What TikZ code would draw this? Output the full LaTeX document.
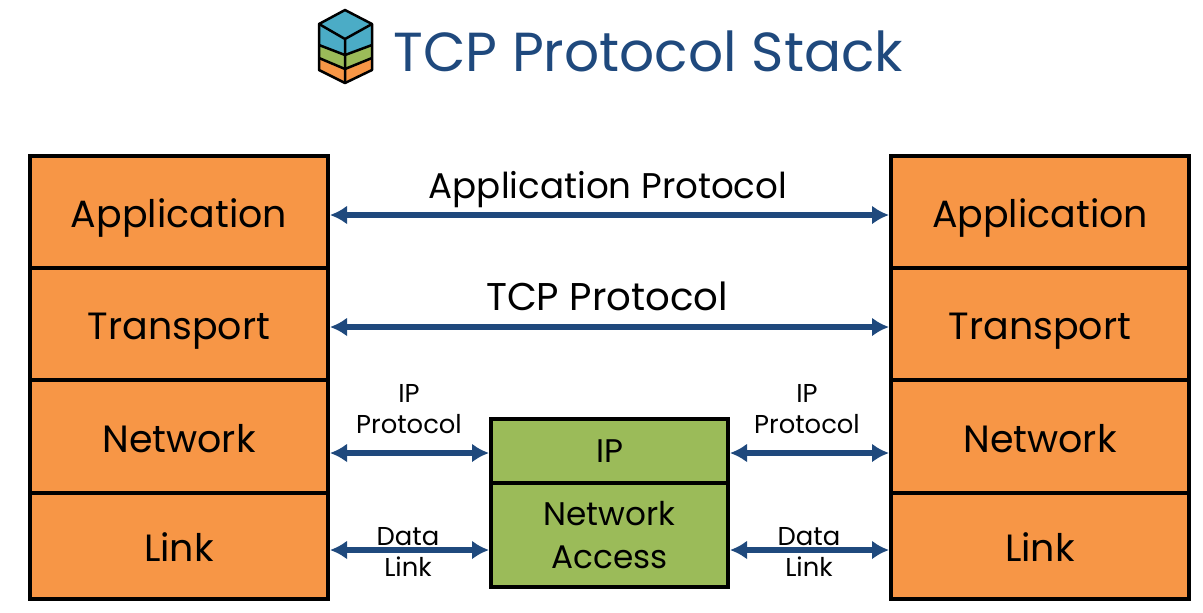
\documentclass[tikz,border=0pt]{standalone}
\usepackage{fontspec}
\setmainfont{Poppins}
\usepackage{tikz}
\usetikzlibrary{arrows.meta}

\definecolor{layerorange}{HTML}{F79646}
\definecolor{layergreen}{HTML}{9BBB59}
\definecolor{layerblue}{HTML}{4BACC6}
\definecolor{arrowblue}{HTML}{1F497D}

\tikzset{
    boxbase/.style={draw=black, line width=0.8mm, inner sep=0pt, align=center},
    layerbox/.style={boxbase, fill=layerorange, minimum width=5.96cm, text height=6.2mm, text depth=0pt, font=\fontsize{21.6}{24}\selectfont},
    routerbox/.style={boxbase, fill=layergreen, minimum width=4.74cm, font=\fontsize{18.6}{24}\selectfont},
    peerarrow/.style={{Latex[length=3.4mm, width=3.8mm]}-{Latex[length=3.4mm, width=3.8mm]}, draw=arrowblue, line width=1.2mm},
    biglabel/.style={font=\fontsize{20.3}{24}\selectfont},
    smalllabel/.style={font=\fontsize{14.7}{17.5}\selectfont, align=center},
    cubeline/.style={draw=black, line width=0.5mm, line join=round}
}

\begin{document}
\begin{tikzpicture}[x=0.2mm, y=-0.2mm]
    \useasboundingbox (0, 0) rectangle (1203, 612);

    % Cube icon
    \fill[layerorange] (319, 58) -- (345, 69) -- (372, 58) -- (372, 70) -- (345, 83) -- (319, 70) -- cycle;
    \fill[layergreen] (319, 45) -- (345, 55) -- (372, 45) -- (372, 58) -- (345, 69) -- (319, 58) -- cycle;
    \fill[layerblue] (345, 10) -- (372, 24) -- (372, 45) -- (345, 55) -- (319, 45) -- (319, 24) -- cycle;
    \draw[cubeline] (345, 10) -- (372, 24) -- (372, 70) -- (345, 83) -- (319, 70) -- (319, 24) -- cycle;
    \draw[cubeline] (319, 24) -- (345, 39) -- (372, 24) (345, 39) -- (345, 83);
    \draw[cubeline] (319, 45) -- (345, 55) -- (372, 45) (319, 58) -- (345, 69) -- (372, 58);

    % Title
    \node[text=arrowblue, anchor=west, inner sep=0pt, font=\fontsize{31.3}{36}\selectfont] (title) at (393, 51) {TCP Protocol Stack};

    % Hosts
    \foreach \side/\xpos in {L/179, R/1040} {
        \node[layerbox, minimum height=2.24cm] (app\side) at (\xpos, 212) {Application};
        \node[layerbox, minimum height=2.24cm] (tra\side) at (\xpos, 324) {Transport};
        \node[layerbox, minimum height=2.26cm] (net\side) at (\xpos, 436.5) {Network};
        \node[layerbox, minimum height=2.12cm] (lnk\side) at (\xpos, 546) {Link};
    }

    % Router
    \node[routerbox, minimum height=1.28cm] (ip) at (609.5, 451) {IP};
    \node[routerbox, minimum height=2.08cm] (acc) at (609.5, 535) {Network\\Access};

    % Row heights of the arrows
    \coordinate (rowA) at (0, 215);
    \coordinate (rowT) at (0, 327);
    \coordinate (rowN) at (0, 453);
    \coordinate (rowL) at (0, 550);

    \draw[peerarrow] (appL.east |- rowA) -- (appR.west |- rowA);
    \draw[peerarrow] (traL.east |- rowT) -- (traR.west |- rowT);
    \draw[peerarrow] (netL.east |- rowN) -- (ip.west |- rowN);
    \draw[peerarrow] (ip.east |- rowN) -- (netR.west |- rowN);
    \draw[peerarrow] (lnkL.east |- rowL) -- (acc.west |- rowL);
    \draw[peerarrow] (acc.east |- rowL) -- (lnkR.west |- rowL);

    % Labels
    \node[biglabel] (applabel) at (608, 190) {Application Protocol};
    \node[biglabel, font=\fontsize{22}{24}\selectfont] (tcplabel) at (607, 296) {TCP Protocol};
    \node[smalllabel] (ipleft) at (409, 409) {IP\\Protocol};
    \node[smalllabel] (ipright) at (807, 409) {IP\\Protocol};
    \node[smalllabel] (dlleft) at (408, 552) {Data\\Link};
    \node[smalllabel] (dlright) at (809, 552) {Data\\Link};
\end{tikzpicture}
\end{document}
